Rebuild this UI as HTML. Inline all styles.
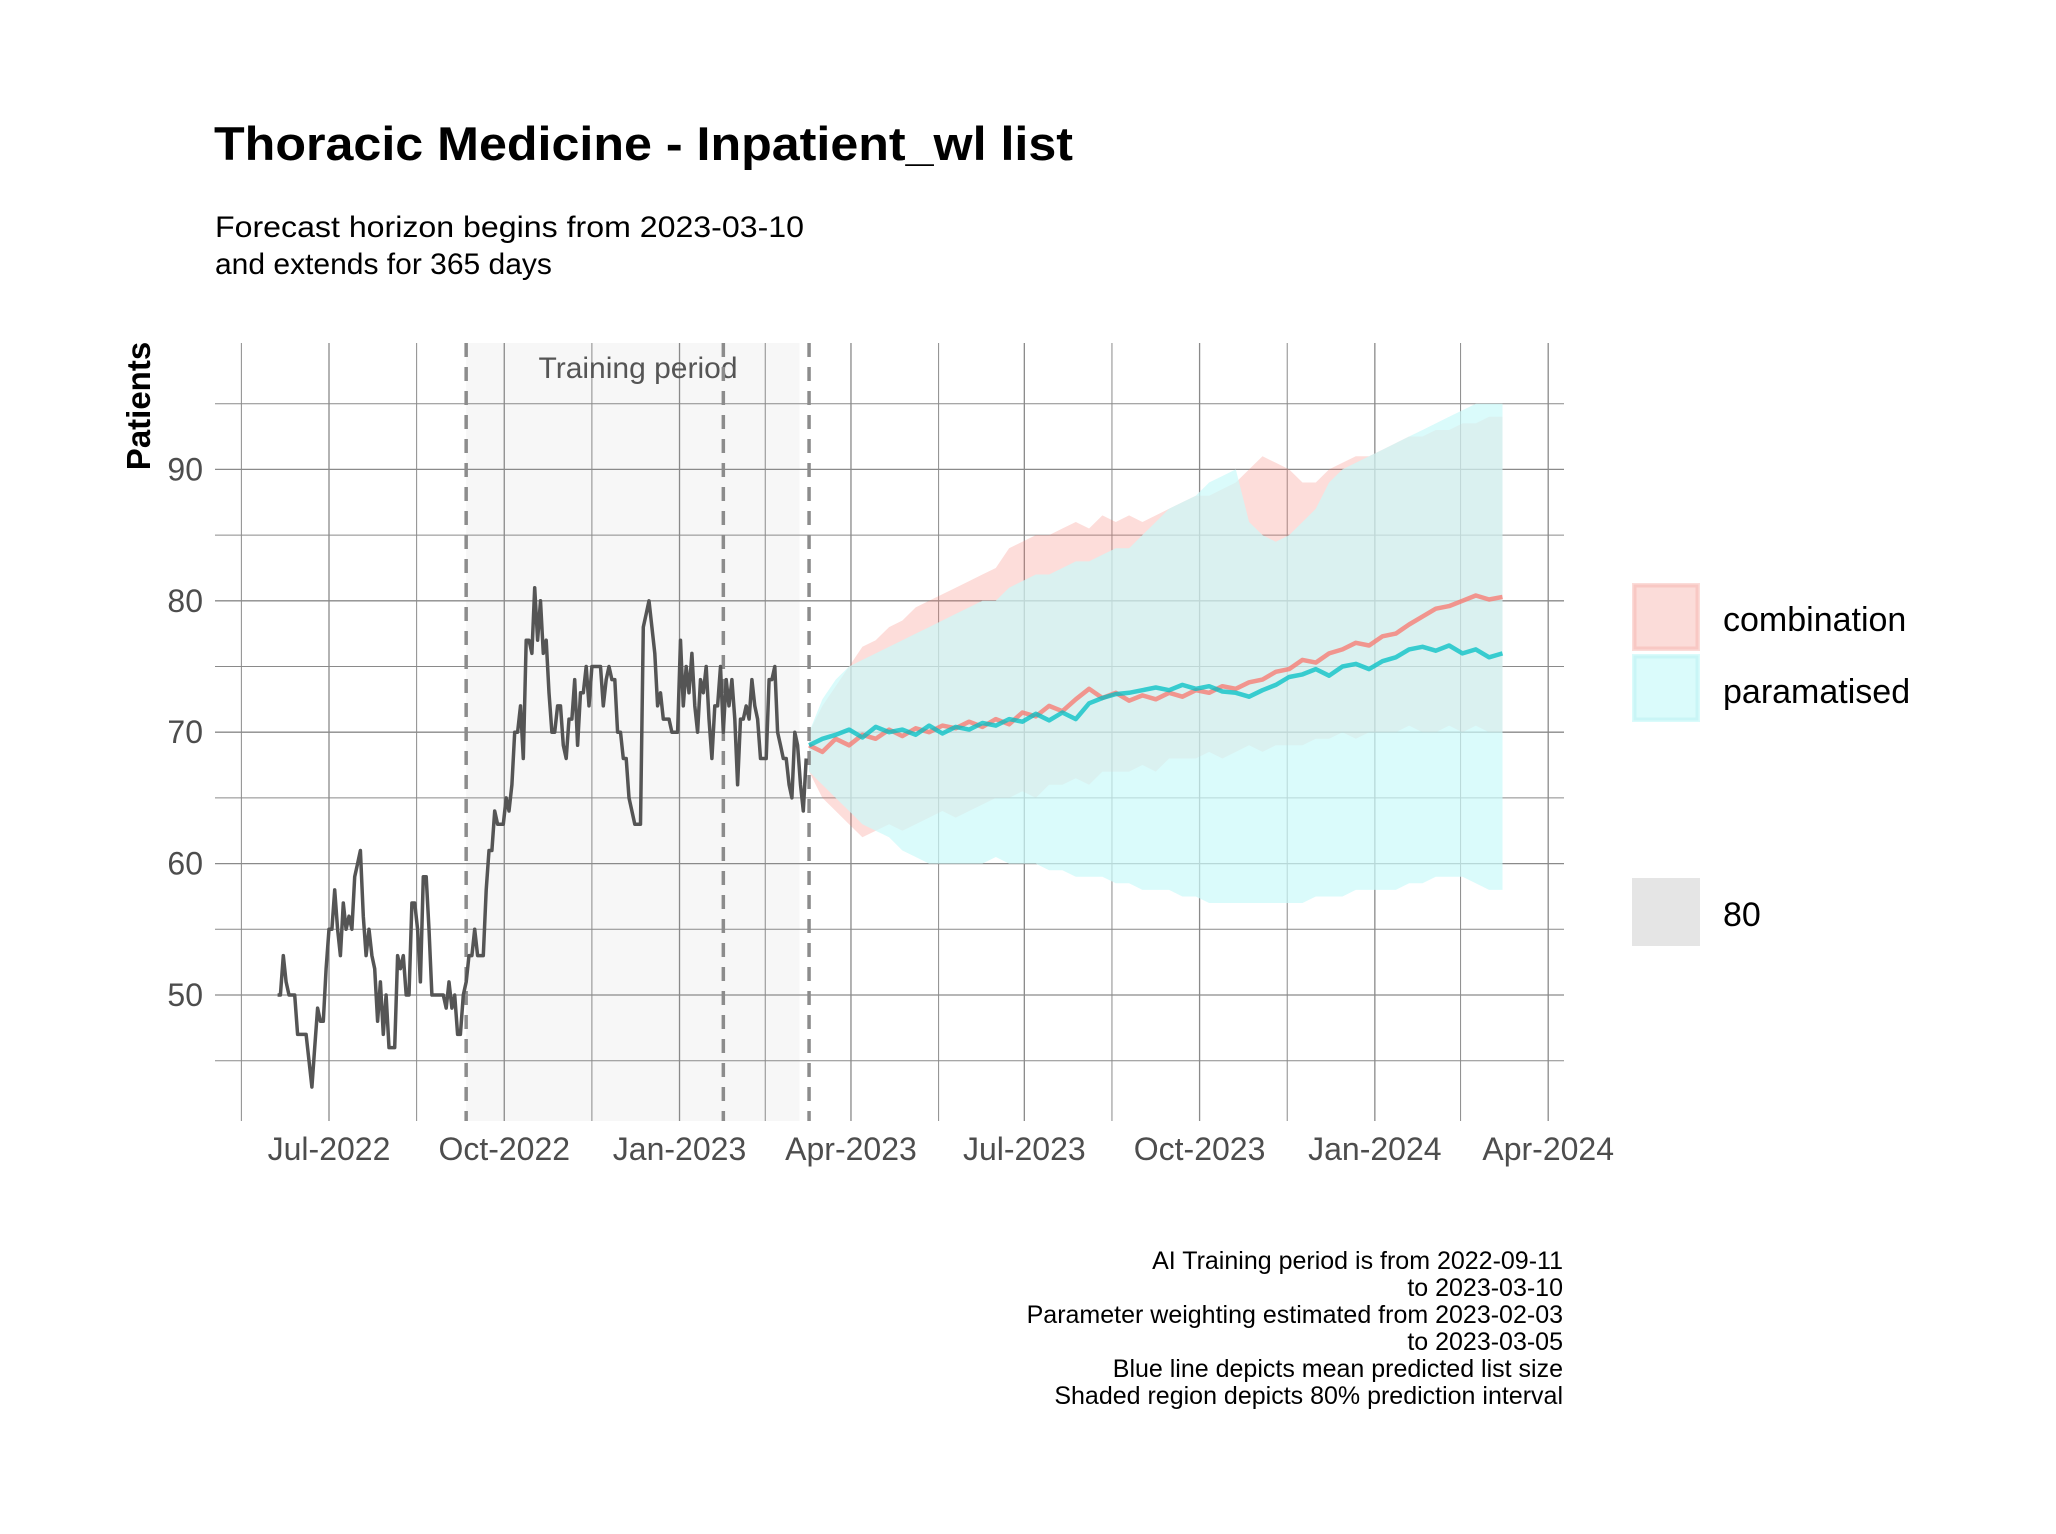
<!DOCTYPE html>
<html><head><meta charset="utf-8">
<style>
html,body{margin:0;padding:0;background:#fff;}
svg{display:block;font-family:"Liberation Sans",Arial,sans-serif;}
</style></head>
<body>
<svg id="chart" width="2056" height="1534" viewBox="0 0 2056 1534">
<rect width="2056" height="1534" fill="#fff"/>
<text x="214" y="160" font-size="47" font-weight="bold" textLength="859" lengthAdjust="spacingAndGlyphs">Thoracic Medicine - Inpatient_wl list</text>
<text x="215" y="237" font-size="30" textLength="589" lengthAdjust="spacingAndGlyphs">Forecast horizon begins from 2023-03-10</text>
<text x="215" y="274" font-size="30">and extends for 365 days</text>
<g id="grid"></g>
<g id="marks"></g>
<g id="axes"></g>
<text transform="translate(150,406) rotate(-90)" text-anchor="middle" font-size="33" font-weight="bold">Patients</text>
<g>
<rect x="1632" y="583" width="68" height="68" fill="#fbdcd9"/>
<rect x="1635" y="586" width="62" height="62" fill="none" stroke="#f8c8c4" stroke-width="3"/>
<text x="1723" y="631" font-size="34">combination</text>
<rect x="1632" y="654" width="68" height="68" fill="#dafbfb"/>
<rect x="1635" y="657" width="62" height="62" fill="none" stroke="#c9f5f6" stroke-width="3"/>
<text x="1723" y="703" font-size="34">paramatised</text>
<rect x="1632" y="878" width="68" height="68" fill="#e5e5e5"/>
<text x="1723" y="926" font-size="34">80</text>
</g>
<g font-size="25" text-anchor="end">
<text x="1563" y="1269">AI Training period is from 2022-09-11</text>
<text x="1563" y="1296">to 2023-03-10</text>
<text x="1563" y="1323">Parameter weighting estimated from 2023-02-03</text>
<text x="1563" y="1350">to 2023-03-05</text>
<text x="1563" y="1377">Blue line depicts mean predicted list size</text>
<text x="1563" y="1404">Shaded region depicts 80% prediction interval</text>
</g>
</svg>
<script>
// day offsets are days from 2022-07-01
const yTicks = [50,60,70,80,90];
const yMinor = [45,55,65,75,85,95];
const xTickLabels = ["Jul-2022","Oct-2022","Jan-2023","Apr-2023","Jul-2023","Oct-2023","Jan-2024","Apr-2024"];
const xTickDays = [0,92,184,274,365,457,549,640];
const xMinorDays = [-46,46,138,229,320,411,503,594];
const trainStart = 72;   // 2022-09-11
const trainEnd = 247;    // 2023-03-05
const vlineDays = [72,207,252];
const obsStart = -27;
const obsStep = 1.5;
const obsValues = [50,50,53,51,50,50,50,47,47,47,47,45,43,46,49,48,48,52,55,55,58,55,53,57,55,56,55,59,60,61,56,53,55,53,52,48,51,47,50,46,46,46,53,52,53,50,50,57,57,55,51,59,59,55,50,50,50,50,50,49,51,49,50,47,47,50,51,53,53,55,53,53,53,58,61,61,64,63,63,63,65,64,66,70,70,72,68,77,77,76,81,77,80,76,77,73,70,70,72,72,69,68,71,71,74,69,73,73,75,72,75,75,75,75,72,74,75,74,74,70,70,68,68,65,64,63,63,63,78,79,80,78,76,72,73,71,71,71,70,70,70,77,72,75,73,76,72,70,74,73,75,71,68,72,72,75,70,74,72,74,71,66,71,71,72,71,74,72,71,68,68,68,74,74,75,70,69,68,68,66,65,70,69,66,64,68];
const fcDays = [252,259,266,273,280,287,294,301,308,315,322,329,336,343,350,357,364,371,378,385,392,399,406,413,420,427,434,441,448,455,462,469,476,483,490,497,504,511,518,525,532,539,546,553,560,567,574,581,588,595,602,609,616];
const combMean = [69,68.5,69.5,69,69.8,69.5,70.2,69.7,70.3,70,70.5,70.3,70.8,70.4,71,70.6,71.5,71.2,72,71.6,72.5,73.3,72.6,73,72.4,72.8,72.5,73,72.7,73.2,73,73.5,73.3,73.8,74,74.6,74.8,75.5,75.3,76,76.3,76.8,76.6,77.3,77.5,78.2,78.8,79.4,79.6,80,80.4,80.1,80.3];
const paramMean = [69,69.5,69.8,70.2,69.6,70.4,70,70.2,69.8,70.5,69.9,70.4,70.2,70.7,70.5,71,70.8,71.4,70.9,71.5,71,72.2,72.6,72.9,73,73.2,73.4,73.2,73.6,73.3,73.5,73.1,73,72.7,73.2,73.6,74.2,74.4,74.8,74.3,75,75.2,74.8,75.4,75.7,76.3,76.5,76.2,76.6,76,76.3,75.7,76];
const combUpper = [70,72,73.5,75,76.5,77,78,78.5,79.5,80,80.5,81,81.5,82,82.5,84,84.5,85,85,85.5,86,85.5,86.5,86,86.5,86,86.5,87,87.5,88,88,88.5,89,90,91,90.5,90,89,89,90,90.5,91,91,91.5,92,92.5,92.5,93,93,93.5,93.5,94,94];
const combLower = [67,65,64,63,62,62.5,63,62.5,63,63.5,64,63.5,64,64.5,65,65,65.5,65,66,66,66.5,66,67,67,67,67.5,67,68,68,68,68.5,68,68.5,69,68.5,69,69,69,69.5,69.5,70,69.5,70,70,70,70.5,70,70,70.5,70,70.5,70,70];
const paramUpper = [70,72.5,74,75,75.5,76,76.5,77,77.5,78,78.5,79,79.5,80,80,81,81.5,82,82,82.5,83,83,83.5,84,84,85,86,87,87.5,88,89,89.5,90,86,85,84.5,85,86,87,89,90,90.5,91,91.5,92,92.5,93,93.5,94,94.5,95,95,95];
const paramLower = [67,66,65,64,63,62.5,62,61,60.5,60,60,60,60,60,60.5,60,60,60,59.5,59.5,59,59,59,58.5,58.5,58,58,58,57.5,57.5,57,57,57,57,57,57,57,57,57.5,57.5,57.5,58,58,58,58,58.5,58.5,59,59,59,58.5,58,58];

const NS = "http://www.w3.org/2000/svg";
const X0 = 329, PXD = 1.905;
const xs = d => X0 + d * PXD;
const ys = v => 995 - (v - 50) * 13.14;
const PL = 215, PR = 1564, PT = 343, PB = 1121;
function mk(tag, attrs, parent) {
  const el = document.createElementNS(NS, tag);
  for (const k in attrs) el.setAttribute(k, attrs[k]);
  parent.appendChild(el);
  return el;
}
const grid = document.getElementById("grid");
const marks = document.getElementById("marks");
const axes = document.getElementById("axes");

const shade = mk("rect", {x: xs(trainStart), y: PT, width: xs(trainEnd) - xs(trainStart), height: PB - PT, fill: "#f7f7f7"}, grid);



yMinor.forEach(v => {
  const l = mk("line", {x1: PL, x2: PR, y1: ys(v), y2: ys(v), stroke: "#8a8a8a", "stroke-width": 1}, grid);
  
  
});
yTicks.forEach(v => {
  const l = mk("line", {x1: PL, x2: PR, y1: ys(v), y2: ys(v), stroke: "#8a8a8a", "stroke-width": 1.3}, grid);
  
  
  const t = mk("text", {x: 203, y: ys(v) + 11, "text-anchor": "end", "font-size": 32, fill: "#4d4d4d"}, axes);
  t.textContent = v;
  
  
});
xMinorDays.forEach(d => {
  const l = mk("line", {x1: xs(d), x2: xs(d), y1: PT, y2: PB, stroke: "#8a8a8a", "stroke-width": 1}, grid);
  
  
});
xTickDays.forEach((d, i) => {
  const l = mk("line", {x1: xs(d), x2: xs(d), y1: PT, y2: PB, stroke: "#8a8a8a", "stroke-width": 1.3}, grid);
  
  
  const t = mk("text", {x: xs(d), y: 1160, "text-anchor": "middle", "font-size": 32, fill: "#4d4d4d"}, axes);
  t.textContent = xTickLabels[i];
  
  
});
const tl = mk("text", {x: 638, y: 378, "text-anchor": "middle", "font-size": 30, fill: "#555"}, grid);
tl.textContent = "Training period";



function band(up, lo, fill, name) {
  let d = "M" + fcDays.map((dd, i) => xs(dd).toFixed(1) + "," + ys(up[i]).toFixed(1)).join("L");
  for (let i = fcDays.length - 1; i >= 0; i--) d += "L" + xs(fcDays[i]).toFixed(1) + "," + ys(lo[i]).toFixed(1);
  const p = mk("path", {d: d + "Z", fill: fill}, marks);
  
  
}
band(combUpper, combLower, "rgba(248,118,109,0.25)", "combination-interval-band");
band(paramUpper, paramLower, "rgba(202,249,249,0.7)", "paramatised-interval-band");

vlineDays.forEach(d => {
  const l = mk("line", {x1: xs(d), x2: xs(d), y1: PT, y2: PB, stroke: "#8c8c8c", "stroke-width": 3.5, "stroke-dasharray": "14,10"}, marks);
  
  
});

function line(days, vals, stroke, w, name) {
  const d = "M" + vals.map((v, i) => xs(days[i]).toFixed(1) + "," + ys(v).toFixed(1)).join("L");
  const p = mk("path", {d: d, fill: "none", stroke: stroke, "stroke-width": w, "stroke-linejoin": "round"}, marks);
  
  
}
const obsDays = obsValues.map((v, i) => obsStart + i * obsStep);
line(obsDays, obsValues, "#555555", 3.5, "observed-line");
line(fcDays, combMean, "rgba(248,118,109,0.75)", 4.5, "combination-mean-line");
line(fcDays, paramMean, "rgba(0,191,196,0.75)", 4.5, "paramatised-mean-line");
</script>
</body></html>
